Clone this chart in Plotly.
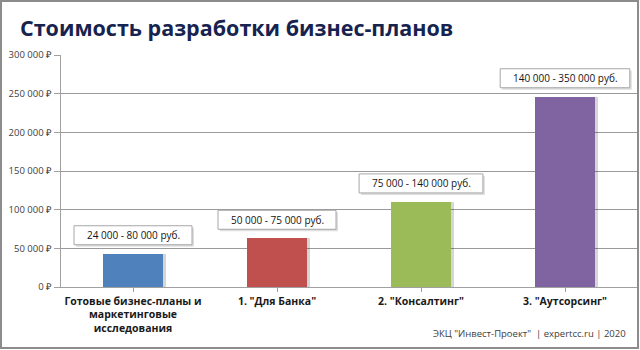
import plotly.graph_objects as go

categories = ["Готовые бизнес-планы и маркетинговые исследования",
              '1. "Для Банка"', '2. "Консалтинг"', '3. "Аутсорсинг"']
tick_labels = ["<b>Готовые бизнес-планы и<br>маркетинговые<br>исследования</b>",
               '<b>1. "Для Банка"</b>', '<b>2. "Консалтинг"</b>', '<b>3. "Аутсорсинг"</b>']
values = [43000, 63000, 110000, 246000]
range_labels = ["24 000 - 80 000 руб.", "50 000 - 75 000 руб.",
                "75 000 - 140 000 руб.", "140 000 - 350 000 руб."]
colors = ["#4F81BD", "#C0504D", "#9BBB59", "#8064A2"]
y_ticks = [0, 50000, 100000, 150000, 200000, 250000, 300000]
y_tick_labels = ["0 ₽", "50 000 ₽", "100 000 ₽", "150 000 ₽",
                 "200 000 ₽", "250 000 ₽", "300 000 ₽"]
title_text = "Стоимость разработки бизнес-планов"
footer_text = 'ЭКЦ "Инвест-Проект"  | expertcc.ru | 2020'

W, H = 640, 350
ML, MR, MT, MB = 61, 3, 55, 63
PW, PH = W - ML - MR, H - MT - MB

FONT = "Open Sans"

fig = go.Figure()
# soft shadow behind bars
fig.add_trace(go.Bar(x=list(range(len(categories))), y=values, width=0.43, offset=-0.20,
                     marker=dict(color="rgba(0,0,0,0.16)", line=dict(width=0)),
                     hoverinfo="skip", showlegend=False))
fig.add_trace(go.Bar(x=list(range(len(categories))), y=values, width=0.41, offset=-0.205,
                     marker=dict(color=colors, line=dict(width=0)),
                     hovertext=categories, showlegend=False))

BOX_GAP, BOX_H = 9, 19
for i, (v, t) in enumerate(zip(values, range_labels)):
    half = 2.9 * len(t) + 1
    # shadow of the label box
    fig.add_shape(type="rect", xref="x", yref="y",
                  xsizemode="pixel", ysizemode="pixel", xanchor=i, yanchor=v,
                  x0=-half + 2, x1=half + 2, y0=BOX_GAP - 2, y1=BOX_GAP + BOX_H - 2,
                  line=dict(width=0), fillcolor="rgba(0,0,0,0.13)", layer="above")
    fig.add_shape(type="rect", xref="x", yref="y",
                  xsizemode="pixel", ysizemode="pixel", xanchor=i, yanchor=v,
                  x0=-half, x1=half, y0=BOX_GAP, y1=BOX_GAP + BOX_H,
                  line=dict(width=1, color="#A6A6A6"), fillcolor="white", layer="above")
    fig.add_annotation(x=i, y=v, xref="x", yref="y", text=t, showarrow=False,
                       yanchor="middle", yshift=BOX_GAP + BOX_H / 2,
                       font=dict(family=FONT, size=10, color="#141414"))

fig.add_annotation(x=(18 - ML) / PW, y=(H - 27 - MB) / PH, xref="paper", yref="paper",
                   text="<b>" + title_text + "</b>", showarrow=False,
                   xanchor="left", yanchor="middle",
                   font=dict(family=FONT, size=21.5, color="#17234F"))

fig.add_annotation(x=(628 - ML) / PW, y=-(333 - (MT + PH)) / PH, xref="paper", yref="paper",
                   text=footer_text, showarrow=False, xanchor="right", yanchor="middle",
                   font=dict(family=FONT, size=9.5, color="#404040"))

fig.update_layout(
    width=W, height=H,
    margin=dict(l=ML, r=MR, t=MT, b=MB, autoexpand=False),
    paper_bgcolor="white", plot_bgcolor="white",
    barmode="overlay", bargap=0,
    font=dict(family=FONT, color="#404040"),
)

fig.update_xaxes(tickvals=list(range(len(categories))), ticktext=tick_labels,
                 ticks="outside", ticklen=4, tickcolor="#A0A0A0", tickangle=0,
                 showline=True, linecolor="#A0A0A0", linewidth=1,
                 tickfont=dict(family=FONT, size=10.5, color="#1a1a1a"),
                 showgrid=False, range=[-0.5, 3.5], tickson="boundaries")
fig.update_yaxes(range=[0, 300000], tickvals=y_ticks, ticktext=y_tick_labels,
                 ticks="outside", ticklen=6, tickcolor="#A0A0A0",
                 showline=True, linecolor="#A0A0A0", linewidth=1,
                 gridcolor="#9A9A9A", gridwidth=1, zeroline=False,
                 tickfont=dict(family=FONT, size=9.5, color="#404040"))

# outer frame
fig.add_shape(type="rect", xref="paper", yref="paper",
              x0=-(ML - 1) / PW, x1=1 + (MR - 2) / PW,
              y0=-(MB - 2) / PH, y1=1 + (MT - 1) / PH,
              line=dict(color="#8C8C8C", width=2), fillcolor="rgba(0,0,0,0)", layer="below")

fig.write_html("out.html")
